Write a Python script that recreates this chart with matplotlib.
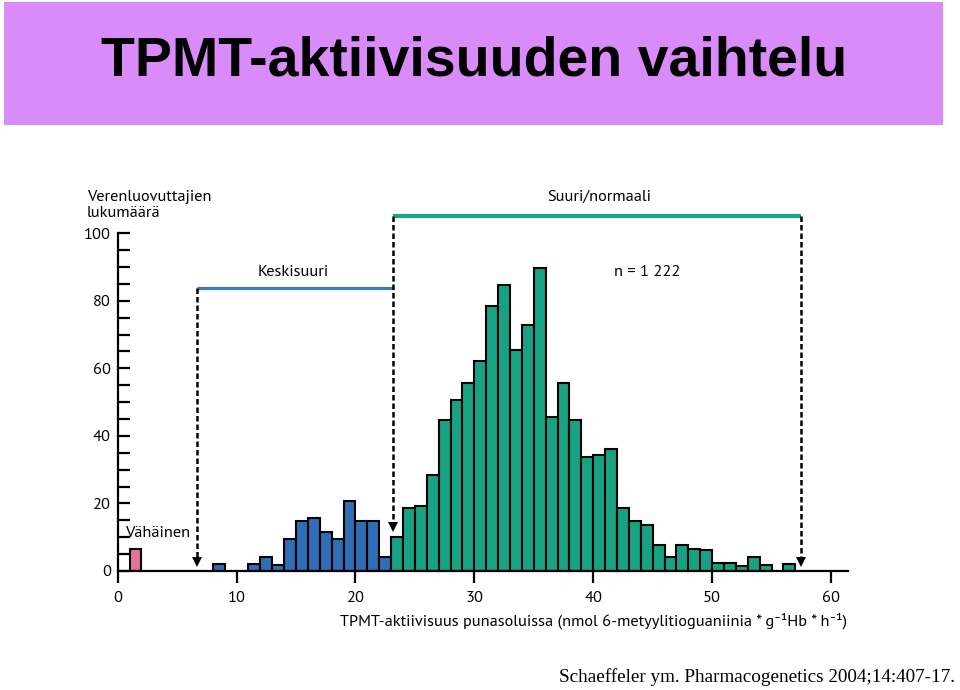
import matplotlib
matplotlib.use("Agg")
import matplotlib.pyplot as plt
from matplotlib.patches import Rectangle
import logging
logging.getLogger("matplotlib.font_manager").setLevel(logging.ERROR)

# ---- data ----
pink_bins = [1]
pink_counts = [6.4]
blue_bins = [8, 9, 10, 11, 12, 13, 14, 15, 16, 17, 18, 19, 20, 21, 22]
blue_counts = [2, 0, 0, 2, 4.2, 1.7, 9.6, 14.7, 15.6, 11.4, 9.6, 20.7, 14.8, 14.8, 4.2]
green_bins = list(range(23, 57))
green_counts = [10, 18.7, 19.3, 28.5, 44.7, 50.6, 55.6, 62.2, 78.6, 84.7, 65.4, 72.8,
                89.8, 45.6, 55.8, 44.8, 33.9, 34.3, 36.2, 18.7, 14.9, 13.5, 7.6, 4.2,
                7.7, 6.5, 6.1, 2.3, 2.3, 1.6, 4.0, 1.7, 0, 2.0]
x_ticks = [0, 10, 20, 30, 40, 50, 60]
y_ticks_major = [0, 20, 40, 60, 80, 100]
y_ticks_minor = [5, 10, 15, 25, 30, 35, 45, 50, 55, 65, 70, 75, 85, 90, 95]
title = "TPMT-aktiivisuuden vaihtelu"
ylabel = "Verenluovuttajien\nlukumäärä"
xlabel = "TPMT-aktiivisuus punasoluissa (nmol 6-metyylitioguaniinia * g⁻¹Hb * h⁻¹)"
citation = "Schaeffeler ym. Pharmacogenetics 2004;14:407-17."

FONT = ["PT Sans", "Fira Sans", "Roboto", "DejaVu Sans"]
FS = 11.8
PINK = "#E0749F"
BLUE = "#2F6DB5"
GREEN = "#17A383"

fig = plt.figure(figsize=(9.6, 6.9), dpi=100)
W, H = 960, 690

# title band
fig.add_artist(Rectangle((4 / W, 1 - 125 / H), 939 / W, 123 / H,
                         transform=fig.transFigure, facecolor="#D98BF9",
                         edgecolor="none"))
fig.text(474 / W, 1 - 61 / H, title, ha="center", va="center",
         fontsize=40, fontweight="bold", family="Liberation Sans")

# axes
left, right = 117.7, 847.7
y0, ytop = 571, 182.6
ax = fig.add_axes([left / W, (H - y0) / H, (right - left) / W, (y0 - ytop) / H])
ax.set_xlim(0, 61.4)
ax.set_ylim(0, 115)

def draw_bars(bins, counts, color):
    b = [x for x, c in zip(bins, counts) if c > 0]
    c = [c for c in counts if c > 0]
    ax.bar(b, c, width=1, align="edge", color=color, edgecolor="black",
           linewidth=1.5, zorder=3)

draw_bars(pink_bins, pink_counts, PINK)
draw_bars(blue_bins, blue_counts, BLUE)
draw_bars(green_bins, green_counts, GREEN)

for s in ["top", "right"]:
    ax.spines[s].set_visible(False)
ax.spines["left"].set_bounds(0, 100)
ax.spines["left"].set_linewidth(1.6)
ax.spines["bottom"].set_linewidth(1.6)
ax.spines["bottom"].set_zorder(4)

ax.set_xticks(x_ticks)
ax.set_xticklabels([str(t) for t in x_ticks], family=FONT, fontsize=FS)
ax.tick_params(axis="x", direction="out", length=8.5, width=1.6, pad=6)
ax.set_yticks(y_ticks_major)
ax.set_yticklabels([str(t) for t in y_ticks_major], family=FONT, fontsize=FS)
ax.set_yticks(y_ticks_minor, minor=True)
ax.tick_params(axis="y", which="both", direction="in", length=8.5, width=1.6, pad=5)

# bracket lines
ax.plot([6.65, 23.15], [83.7, 83.7], color="#3C7BBF", lw=2.3, solid_capstyle="butt", zorder=2)
ax.plot([23.15, 57.5], [105, 105], color="#1FA584", lw=3.0, solid_capstyle="butt", zorder=2)

# dashed arrows
def arrow(x, ytop_, ytip):
    ax.plot([x, x], [ytop_, ytip + 2.5], color="black", lw=1.8,
            linestyle=(0, (2.2, 1.2)), zorder=5)
    ax.plot([x], [ytip + 1.4], marker="v", markersize=7.5, color="black",
            markeredgewidth=0, zorder=5)

arrow(6.65, 83.7, 1.2)
arrow(23.15, 105, 11.6)
arrow(57.5, 105, 1.3)

# labels
ax.text(14.8, 88.6, "Keskisuuri", ha="center", va="center", family=FONT, fontsize=FS)
ax.text(40.5, 110.7, "Suuri/normaali", ha="center", va="center", family=FONT, fontsize=FS)
ax.text(44.5, 88.6, "n = 1 222", ha="center", va="center", family=FONT, fontsize=FS)
ax.text(0.6, 11.3, "Vähäinen", ha="left", va="center", family=FONT, fontsize=FS,
        zorder=6)

fig.text(87 / W, 1 - 216.7 / H, ylabel, ha="left", va="baseline", family=FONT,
         fontsize=FS, linespacing=1.15)
fig.text(847 / W, 1 - 621 / H, xlabel, ha="right", va="center", family=FONT,
         fontsize=FS)
fig.text(955 / W, 1 - 677 / H, citation, ha="right", va="center",
         family="Liberation Serif", fontsize=13.8)

fig.savefig("out.png", dpi=100)
